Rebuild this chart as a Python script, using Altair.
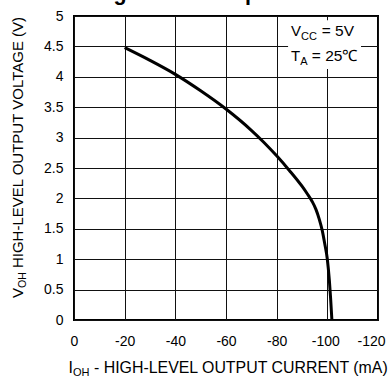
import altair as alt
import pandas as pd

# ---- data ----
current_ma = [-20, -30, -40, -50, -60, -70, -75, -80, -85, -90, -92, -94, -95.5, -96.8, -98, -99, -100, -100.8, -101.3, -101.8]
voltage_v = [4.48, 4.27, 4.04, 3.77, 3.47, 3.12, 2.92, 2.70, 2.46, 2.20, 2.08, 1.95, 1.82, 1.66, 1.47, 1.25, 1.0, 0.65, 0.35, 0.0]
x_ticks = [0, -20, -40, -60, -80, -100, -120]
y_ticks = [0, 0.5, 1, 1.5, 2, 2.5, 3, 3.5, 4, 4.5, 5]

title_text = "High-Level Output Current"
box_x = [-84.5]
box_x2 = [-113.3]
box_y = [4.93]
box_y2 = [4.13]
note_x = [-85.7]
vcc_y = [4.663]
ta_y = [4.252]

FONT = "Liberation Sans"

curve = pd.DataFrame({"i": current_ma, "v": voltage_v, "k": list(range(len(current_ma)))})
box = pd.DataFrame({"x": box_x, "x2": box_x2, "y": box_y, "y2": box_y2})
one = pd.DataFrame({"a": [0]})

xscale = alt.Scale(domain=[0, -120], nice=False, zero=False)
yscale = alt.Scale(domain=[0, 5], nice=False)

x_axis = alt.Axis(
    values=x_ticks,
    labelExpr="'' + datum.value",
    labelFlush=False,
    labelOffset={"condition": [{"test": "datum.value == -100", "value": -2},
                               {"test": "datum.value == -120", "value": -7}],
                 "value": 0},
    labelPadding=14,
    title=None,
)
y_axis = alt.Axis(values=y_ticks, labelExpr="'' + datum.value", labelPadding=11, title=None)


def X(field):
    return alt.X(field, scale=xscale, axis=x_axis)


def Y(field):
    return alt.Y(field, scale=yscale, axis=y_axis)


line = alt.Chart(curve).mark_line(color="black", strokeWidth=3, interpolate="monotone").encode(
    x=X("i:Q"), y=Y("v:Q"), order="k:Q",
)

rect = alt.Chart(box).mark_rect(color="white").encode(
    x=X("x:Q"), x2="x2:Q", y=Y("y:Q"), y2="y2:Q",
)


def note(text, yv, dx, dy, size):
    d = pd.DataFrame({"x": note_x, "y": yv})
    return alt.Chart(d).mark_text(
        text=text, font=FONT, fontSize=size, color="black", align="left",
        baseline="alphabetic", dx=dx, dy=dy,
    ).encode(x=X("x:Q"), y=Y("y:Q"))


def ptext(text, px, py, dx=0, dy=0, size=15, angle=0, weight="normal"):
    kw = dict(text=text, font=FONT, fontSize=size, color="black", align="left",
              baseline="alphabetic", dx=dx, dy=dy, fontWeight=weight)
    if angle:
        kw["angle"] = angle
    return alt.Chart(one).mark_text(**kw).encode(x=alt.value(px), y=alt.value(py))


notes = [
    note("V", vcc_y, 0, 0, 15),
    note("CC", vcc_y, 10.0, 3.5, 11),
    note("= 5V", vcc_y, 30.6, 0, 15.5),
    note("T", ta_y, 0, 0, 15),
    note("A", ta_y, 9.2, 3.5, 11),
    note("= 25\u2103", ta_y, 20.7, 0, 15.5),
]

# axis titles with subscripts (pixel positions relative to plot area)
ytitle = [
    ptext("V", -51.5, 282, 0, 0, 15, 270),
    ptext("OH", -51.5, 282, 10.0, 3.5, 10.5, 270),
    ptext("HIGH-LEVEL OUTPUT VOLTAGE (V)", -51.5, 282, 29.9, 0, 15, 270),
]
xtitle = [
    ptext("I", -5.5, 356.5, 0, 0, 15.9),
    ptext("OH", -5.5, 356.5, 4.4, 3.5, 11),
    ptext("- HIGH-LEVEL OUTPUT CURRENT (mA)", -5.5, 356.5, 25.5, 0, 15.9),
]
title = [ptext(title_text, 18, -16.5, 0, 0, 21.5, 0, "bold")]

chart = alt.layer(line, rect, *notes, *ytitle, *xtitle, *title).properties(
    width=304, height=304,
    autosize=alt.AutoSizeParams(type="none"),
    padding={"left": 74, "top": 16, "right": 13, "bottom": 57},
    background="white",
).configure_view(stroke="black", strokeWidth=2).configure_axis(
    grid=True, gridColor="#111", gridWidth=1, domain=False, ticks=False,
    labelFont=FONT, labelFontSize=14, labelColor="black",
)

chart.save("out.html", embed_options={"renderer": "svg", "actions": False})
